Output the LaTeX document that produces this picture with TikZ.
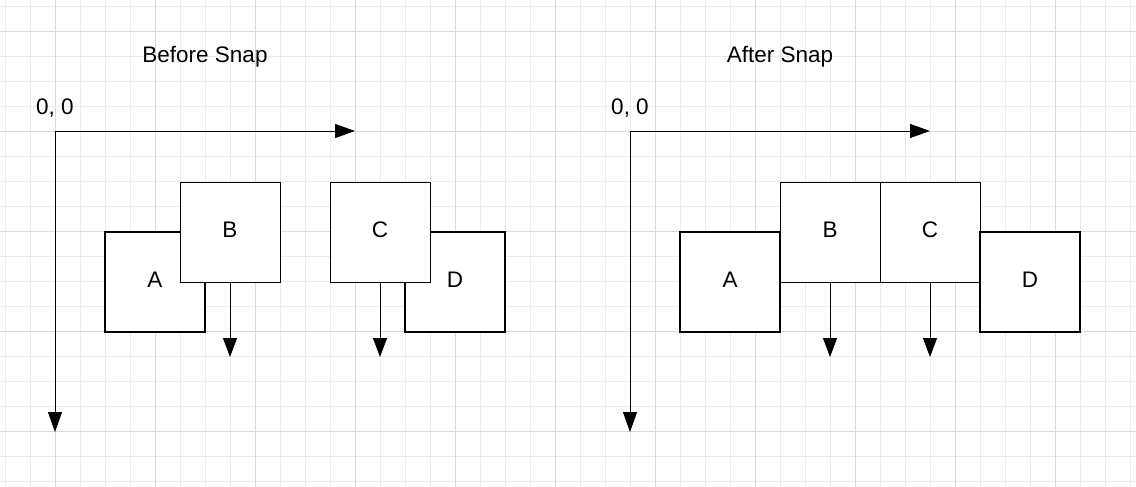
\documentclass[tikz,border=0pt]{standalone}
\usepackage{fontspec}
\setmainfont{Liberation Sans}
\usetikzlibrary{arrows.meta}
\definecolor{gridminor}{HTML}{EBEBEB}
\definecolor{gridmajor}{HTML}{D9D9D9}
\tikzset{
  thickbox/.style={draw=black, line width=2pt, fill=white, minimum width=100pt, minimum height=100pt, inner sep=0pt, outer sep=0pt},
  thinbox/.style={draw=black, line width=1pt, fill=white, minimum width=100pt, minimum height=100pt, inner sep=0pt, outer sep=0pt},
  lbl/.style={font=\fontsize{22.5}{26}\selectfont, inner sep=0pt},
  arr/.style={draw=black, line width=1pt, -{Triangle[length=19pt, width=14pt]}},
  axis/.style={draw=black, line width=1pt, -{Triangle[length=20pt, width=14pt]}},
}
\begin{document}
\begin{tikzpicture}[x=1pt, y=-1pt]
\useasboundingbox (0,0) rectangle (1136,487);
\fill[white] (0,0) rectangle (1136,487);
% grid
\foreach \i in {0,...,45} { \draw[gridminor, line width=1pt] ({5.5+25*\i},0) -- ({5.5+25*\i},487); }
\foreach \j in {0,...,19} { \draw[gridminor, line width=1pt] (0,{6.3+25*\j}) -- (1136,{6.3+25*\j}); }
\foreach \i in {0,...,10} { \draw[gridmajor, line width=1pt] ({55.5+100*\i},0) -- ({55.5+100*\i},487); }
\foreach \j in {0,...,4} { \draw[gridmajor, line width=1pt] (0,{31.3+100*\j}) -- (1136,{31.3+100*\j}); }

% titles
\node[lbl] (t1) at (205,57) {Before Snap};
\node[lbl] (t2) at (780,57) {After Snap};
\node[lbl] (o1) at (55,108) {0, 0};
\node[lbl] (o2) at (630,108) {0, 0};

% left axes
\coordinate (L0) at (55,131);
\coordinate (Lx) at (355,131);
\coordinate (Ly) at (55,432);
\draw[axis] (L0) -- (Lx);
\draw[axis] (L0) -- (Ly);

% right axes
\coordinate (R0) at (630,131);
\coordinate (Rx) at (930,131);
\coordinate (Ry) at (630,432);
\draw[axis] (R0) -- (Rx);
\draw[axis] (R0) -- (Ry);

% left boxes
\node[thickbox] (lA) at (155,282) {};
\node[thinbox] (lB) at (230,232) {};
\node[thickbox] (lD) at (455,282) {};
\node[thinbox] (lC) at (380,232) {};
\node[lbl] (lAt) at ([yshift=2pt]lA.center) {A};
\node[lbl] (lBt) at ([yshift=2pt]lB.center) {B};
\node[lbl] (lCt) at ([yshift=2pt]lC.center) {C};
\node[lbl] (lDt) at ([yshift=2pt]lD.center) {D};
\coordinate (lBe) at (230,357);
\coordinate (lCe) at (380,357);
\draw[arr] (lB.south) -- (lBe);
\draw[arr] (lC.south) -- (lCe);

% right boxes
\node[thickbox] (rA) at (730,282) {};
\node[thinbox] (rB) at (830,232) {};
\node[thinbox] (rC) at (930,232) {};
\node[thickbox] (rD) at (1030,282) {};
\node[lbl] (rAt) at ([yshift=2pt]rA.center) {A};
\node[lbl] (rBt) at ([yshift=2pt]rB.center) {B};
\node[lbl] (rCt) at ([yshift=2pt]rC.center) {C};
\node[lbl] (rDt) at ([yshift=2pt]rD.center) {D};
\coordinate (rBe) at (830,357);
\coordinate (rCe) at (930,357);
\draw[arr] (rB.south) -- (rBe);
\draw[arr] (rC.south) -- (rCe);
\end{tikzpicture}
\end{document}
